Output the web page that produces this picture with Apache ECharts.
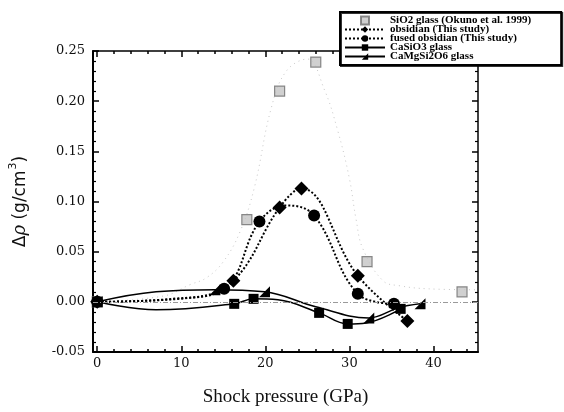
<!DOCTYPE html>
<html>
<head>
<meta charset="utf-8">
<script src="https://cdn.jsdelivr.net/npm/echarts@6/dist/echarts.min.js"></script>
<style>
  html, body { margin: 0; padding: 0; background: #fff; }
  #chart { width: 564px; height: 412px; }
</style>
</head>
<body>
<div id="chart"></div>
<script>
// x ticks (GPa)
const xMajor = [0, 10, 20, 30, 40];
const xMinor = [2, 4, 6, 8, 12, 14, 16, 18, 22, 24, 26, 28, 32, 34, 36, 38, 42, 44];

const legendNames = [
  'SiO2 glass (Okuno et al. 1999)',
  'obsidian (This study)',
  'fused obsidian (This study)',
  'CaSiO3 glass',
  'CaMgSi2O6 glass'
];

// measured points [pressure, delta rho]
const sio2Pts = [[0, 0], [17.8, 0.082], [21.7, 0.210], [26.0, 0.239], [32.1, 0.040], [43.4, 0.010]];
const obsidianPts = [[0, 0], [16.2, 0.021], [21.7, 0.094], [24.3, 0.113], [31.0, 0.026], [36.9, -0.019]];
const fusedPts = [[0, 0], [15.1, 0.013], [19.3, 0.080], [25.8, 0.086], [31.0, 0.008], [35.3, -0.002]];
const casio3Pts = [[0, 0], [16.3, -0.002], [18.6, 0.003], [26.4, -0.011], [29.8, -0.022], [36.1, -0.007]];
const camgPts = [[0, 0], [14.0, 0.012], [19.9, 0.010], [32.3, -0.016], [38.4, -0.002]];

// points (no marker)
const sio2Fit = [[0, 0], [8, 0.006], [11, 0.017], [13, 0.024], [15, 0.040], [17, 0.070], [18.7, 0.114],
  [20.7, 0.193], [22.5, 0.230], [25, 0.242], [27, 0.212], [28.6, 0.171], [30, 0.123], [30.8, 0.082],
  [31.6, 0.053], [34, 0.021], [36, 0.016], [39.3, 0.013], [45.3, 0.012]];
const obsidianFit = [[11, 0.004]];
const fusedFit = [[9, 0.003], [22.5, 0.096]];
const casio3Fit = [[7, -0.008], [21.5, 0.002], [32, -0.021]];
const camgFit = [[7, 0.010], [26, -0.005], [35.8, -0.006]];

function mergeData(pts, fit) {
  var out = [];
  pts.forEach(function (p) { out.push({ value: p }); });
  fit.forEach(function (p) { out.push({ value: p, symbol: 'none' }); });
  out.sort(function (a, b) { return a.value[0] - b.value[0]; });
  return out;
}

const chart = echarts.init(document.getElementById('chart'), null, { renderer: 'canvas' });

const tickFont = { fontFamily: 'DejaVu Serif, serif', fontSize: 13, color: '#111' };
const triPath = 'path://M0,10 L10,0 L10,10 Z';
const squarePath = 'path://M0,0 L10,0 L10,10 L0,10 Z';

function xAx(pos, ticks, len, line, labels) {
  return {
    type: 'value', position: pos, min: -0.5, max: 45.3,
    axisLine: { show: line, onZero: false, lineStyle: { color: '#000', width: pos === 'bottom' ? 2 : 1.5 } },
    axisTick: { show: true, inside: true, length: len, customValues: ticks, lineStyle: { color: '#000', width: 1.5 } },
    axisLabel: labels ? Object.assign({ customValues: xMajor, margin: 5 }, tickFont) : { show: false },
    splitLine: { show: false }
  };
}

const option = {
  animation: false,
  backgroundColor: '#fff',
  grid: { left: 91, right: 86, top: 51, bottom: 50 },
  legend: {
    orient: 'vertical',
    left: 340,
    top: 12,
    itemWidth: 40,
    itemHeight: 8,
    itemGap: -2,
    padding: [3, 30, 3, 4],
    backgroundColor: '#fff',
    borderColor: '#000',
    borderWidth: 2,
    shadowColor: 'rgba(0,0,0,0.8)',
    shadowOffsetX: 1,
    shadowOffsetY: 1,
    data: [
      { name: legendNames[0], icon: squarePath },
      legendNames[1], legendNames[2], legendNames[3], legendNames[4]
    ],
    textStyle: { fontFamily: 'Liberation Serif, serif', fontSize: 11, fontWeight: 'bold', color: '#000' }
  },
  xAxis: [
    Object.assign(xAx('bottom', xMajor, 6, true, true), {
      name: 'Shock pressure (GPa)', nameLocation: 'middle', nameGap: 36,
      nameTextStyle: { fontFamily: 'Liberation Serif, serif', fontSize: 19, color: '#111' }
    }),
    xAx('bottom', xMinor, 3, false, false),
    xAx('top', xMajor, 6, true, false),
    xAx('top', xMinor, 3, false, false)
  ],
  yAxis: [
    {
      type: 'value', position: 'left', min: -0.05, max: 0.25, interval: 0.05,
      name: '{a|Δ}{r|ρ}{a| (g/cm}{s|3}{a|)}',
      nameLocation: 'middle', nameGap: 60, nameRotate: 90,
      nameTextStyle: {
        rich: {
          a: { fontFamily: 'DejaVu Sans, sans-serif', fontSize: 17, color: '#111' },
          r: { fontFamily: 'DejaVu Serif, serif', fontSize: 18, fontStyle: 'italic', color: '#111' },
          s: { fontFamily: 'DejaVu Sans, sans-serif', fontSize: 11, color: '#111', padding: [0, 0, 14, 1] }
        }
      },
      axisLine: { show: true, onZero: false, lineStyle: { color: '#000', width: 2 } },
      axisTick: { inside: true, length: 6, lineStyle: { color: '#000', width: 1.5 } },
      minorTick: { show: true, splitNumber: 5, length: 3, lineStyle: { color: '#000', width: 1.2 } },
      axisLabel: Object.assign({ margin: 8, formatter: function (v) { return v.toFixed(2); } }, tickFont),
      splitLine: { show: false }
    },
    {
      type: 'value', position: 'right', min: -0.05, max: 0.25, interval: 0.05,
      axisLine: { show: true, onZero: false, lineStyle: { color: '#000', width: 1.5 } },
      axisTick: { inside: true, length: 6, lineStyle: { color: '#000', width: 1.5 } },
      minorTick: { show: true, splitNumber: 5, length: 3, lineStyle: { color: '#000', width: 1.2 } },
      axisLabel: { show: false },
      splitLine: { show: false }
    }
  ],
  series: [
    {
      name: 'SiO2 fit',
      type: 'line',
      smooth: 0.4,
      symbol: 'none',
      data: sio2Fit,
      lineStyle: { color: '#c8c8c8', width: 1, type: [1, 4] },
      markLine: {
        silent: true, symbol: 'none', label: { show: false },
        lineStyle: { color: '#9a9a9a', width: 1, type: [5, 2, 1, 2] },
        data: [{ yAxis: 0 }]
      },
      z: 1
    },
    {
      name: legendNames[0],
      type: 'scatter',
      symbol: squarePath,
      symbolSize: 10,
      data: sio2Pts,
      itemStyle: { color: '#c4c4c4', borderColor: '#6e6e6e', borderWidth: 1.2 },
      z: 2
    },
    {
      name: legendNames[1],
      type: 'line',
      smooth: 0.4,
      symbol: 'diamond',
      symbolSize: 14,
      data: mergeData(obsidianPts, obsidianFit),
      itemStyle: { color: '#000' },
      lineStyle: { color: '#000', width: 2, type: 'dotted' },
      z: 4
    },
    {
      name: legendNames[2],
      type: 'line',
      smooth: 0.4,
      symbol: 'circle',
      symbolSize: 12,
      data: mergeData(fusedPts, fusedFit),
      itemStyle: { color: '#000' },
      lineStyle: { color: '#000', width: 2, type: 'dotted' },
      z: 4
    },
    {
      name: legendNames[3],
      type: 'line',
      smooth: 0.4,
      symbol: 'rect',
      symbolSize: 10,
      data: mergeData(casio3Pts, casio3Fit),
      itemStyle: { color: '#000' },
      lineStyle: { color: '#000', width: 1.5 },
      z: 3
    },
    {
      name: legendNames[4],
      type: 'line',
      smooth: 0.4,
      symbol: triPath,
      symbolSize: 11,
      data: mergeData(camgPts, camgFit),
      itemStyle: { color: '#000' },
      lineStyle: { color: '#000', width: 1.5 },
      z: 3
    }
  ]
};

chart.setOption(option);
</script>
</body>
</html>
